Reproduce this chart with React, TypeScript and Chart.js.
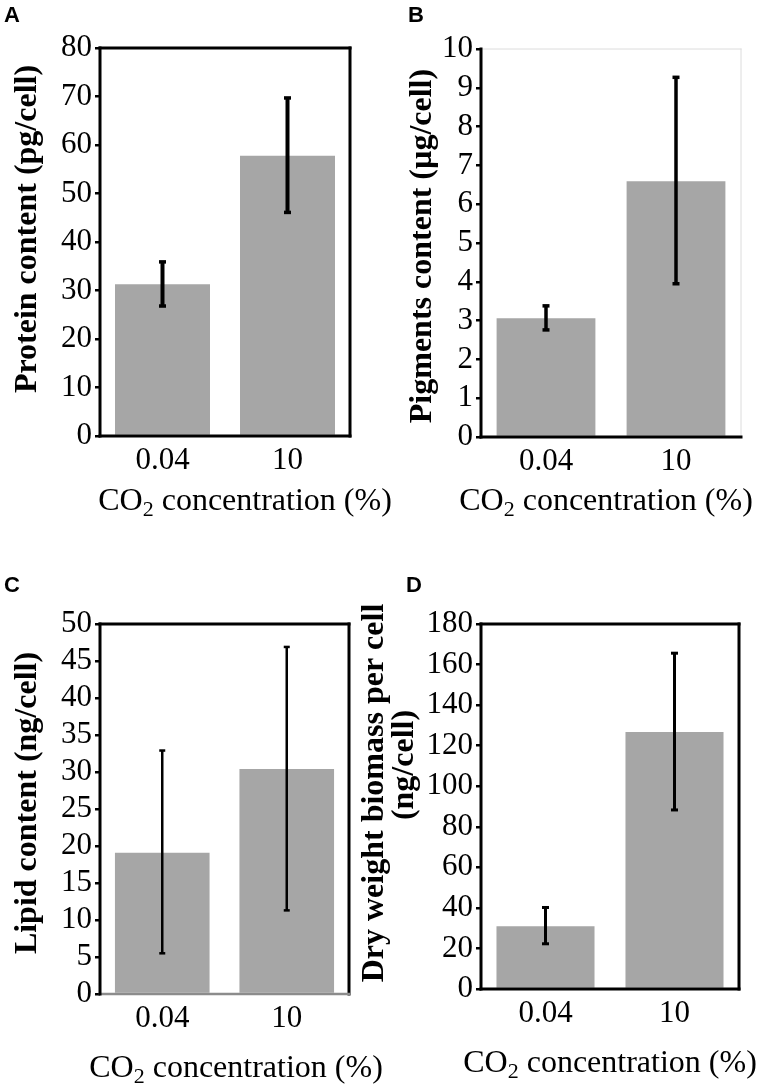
import React, { useEffect, useRef } from 'react';
import { Chart, registerables } from 'chart.js';

Chart.register(...registerables);

// ---------- data ----------
const categories = ['0.04', '10'];

const proteinMeans = [31.3, 57.8];
const proteinLow = [26.8, 46.1];
const proteinHigh = [35.9, 69.7];
const proteinTicks = [0, 10, 20, 30, 40, 50, 60, 70, 80];

const pigmentMeans = [3.06, 6.59];
const pigmentLow = [2.76, 3.95];
const pigmentHigh = [3.38, 9.27];
const pigmentTicks = [0, 1, 2, 3, 4, 5, 6, 7, 8, 9, 10];

const lipidMeans = [19.1, 30.4];
const lipidLow = [5.5, 11.3];
const lipidHigh = [32.9, 46.9];
const lipidTicks = [0, 5, 10, 15, 20, 25, 30, 35, 40, 45, 50];

const dryMeans = [31.0, 126.8];
const dryLow = [22.3, 88.3];
const dryHigh = [40.2, 165.6];
const dryTicks = [0, 20, 40, 60, 80, 100, 120, 140, 160, 180];

const xTitleMain = 'CO';
const xTitleSub = '2';
const xTitleRest = ' concentration (%)';

// ---------- panel layout / style ----------
type Line = { color: string; width: number };
type Panel = {
  key: string;
  letter: string;
  rect: { x: number; y: number; w: number; h: number };
  area: { l: number; t: number; r: number; b: number };
  means: number[];
  low: number[];
  high: number[];
  ticks: number[];
  yTitle: string[];
  yTitleX: number[];
  yTitleY: number[];
  xTitleX: number;
  xTitleY: number;
  letterX: number;
  letterY: number;
  top: Line;
  right: Line;
  bottom: Line;
  left: Line;
  err: { w: number; capW: number; capH: number };
};

const BLACK: Line = { color: '#000000', width: 3 };

const panels: Panel[] = [
  {
    key: 'A',
    letter: 'A',
    rect: { x: 0, y: 0, w: 400, h: 542 },
    area: { l: 100, t: 48, r: 350, b: 436 },
    means: proteinMeans,
    low: proteinLow,
    high: proteinHigh,
    ticks: proteinTicks,
    yTitle: ['Protein content (pg/cell)'],
    yTitleX: [36],
    yTitleY: [229],
    xTitleX: 245,
    xTitleY: 510,
    letterX: 4,
    letterY: 22,
    top: BLACK,
    right: BLACK,
    bottom: BLACK,
    left: BLACK,
    err: { w: 4, capW: 7, capH: 3.5 },
  },
  {
    key: 'B',
    letter: 'B',
    rect: { x: 381, y: 0, w: 381, h: 542 },
    area: { l: 481, t: 49, r: 741, b: 437 },
    means: pigmentMeans,
    low: pigmentLow,
    high: pigmentHigh,
    ticks: pigmentTicks,
    yTitle: ['Pigments content (\u00b5g/cell)'],
    yTitleX: [431],
    yTitleY: [246],
    xTitleX: 606,
    xTitleY: 510,
    letterX: 408,
    letterY: 22,
    top: { color: '#dcdcdc', width: 1 },
    right: { color: '#dcdcdc', width: 1 },
    bottom: BLACK,
    left: BLACK,
    err: { w: 3.5, capW: 7, capH: 3.5 },
  },
  {
    key: 'C',
    letter: 'C',
    rect: { x: 0, y: 542, w: 395, h: 543 },
    area: { l: 100, t: 624, r: 349, b: 994 },
    means: lipidMeans,
    low: lipidLow,
    high: lipidHigh,
    ticks: lipidTicks,
    yTitle: ['Lipid content (ng/cell)'],
    yTitleX: [36],
    yTitleY: [803],
    xTitleX: 236,
    xTitleY: 1077,
    letterX: 4,
    letterY: 592,
    top: BLACK,
    right: BLACK,
    bottom: { color: '#8c8c8c', width: 2.5 },
    left: BLACK,
    err: { w: 2.5, capW: 6, capH: 2.5 },
  },
  {
    key: 'D',
    letter: 'D',
    rect: { x: 340, y: 542, w: 422, h: 543 },
    area: { l: 481, t: 624, r: 739, b: 989 },
    means: dryMeans,
    low: dryLow,
    high: dryHigh,
    ticks: dryTicks,
    yTitle: ['Dry weight biomass per cell', '(ng/cell)'],
    yTitleX: [383, 413],
    yTitleY: [793, 765],
    xTitleX: 610,
    xTitleY: 1072,
    letterX: 406,
    letterY: 592,
    top: BLACK,
    right: BLACK,
    bottom: BLACK,
    left: BLACK,
    err: { w: 3, capW: 7, capH: 3 },
  },
];

const SERIF = '"Liberation Serif", "Times New Roman", Times, serif';
const SANS = '"Liberation Sans", Arial, sans-serif';

const decorPlugin = {
  id: 'panelDecor',
  afterDatasetsDraw(chart: any, _args: any, opts: any) {
    const p: Panel = opts.panel;
    if (!p) return;
    const ctx: CanvasRenderingContext2D = chart.ctx;
    const meta = chart.getDatasetMeta(0);
    const ys = chart.scales.y;
    ctx.save();
    ctx.strokeStyle = '#000';
    ctx.fillStyle = '#000';
    ctx.lineWidth = p.err.w;
    meta.data.forEach((bar: any, i: number) => {
      const x = bar.x;
      const yl = ys.getPixelForValue(p.low[i]);
      const yh = ys.getPixelForValue(p.high[i]);
      ctx.beginPath();
      ctx.moveTo(x, yl);
      ctx.lineTo(x, yh);
      ctx.stroke();
      ctx.fillRect(x - p.err.capW / 2, yh - p.err.capH / 2, p.err.capW, p.err.capH);
      ctx.fillRect(x - p.err.capW / 2, yl - p.err.capH / 2, p.err.capW, p.err.capH);
    });
    ctx.restore();
  },
  afterDraw(chart: any, _args: any, opts: any) {
    const p: Panel = opts.panel;
    if (!p) return;
    const ctx: CanvasRenderingContext2D = chart.ctx;
    const ox = p.rect.x;
    const oy = p.rect.y;
    const { left, top, right, bottom } = chart.chartArea;
    const line = (x1: number, y1: number, x2: number, y2: number, s: Line) => {
      ctx.save();
      ctx.strokeStyle = s.color;
      ctx.lineWidth = s.width;
      ctx.lineCap = 'square';
      ctx.beginPath();
      ctx.moveTo(x1, y1);
      ctx.lineTo(x2, y2);
      ctx.stroke();
      ctx.restore();
    };
    line(left, top, right, top, p.top);
    line(right, top, right, bottom, p.right);
    line(left, bottom, right, bottom, p.bottom);
    line(left, top, left, bottom, p.left);

    // panel letter
    ctx.save();
    ctx.fillStyle = '#000';
    ctx.font = `bold 22px ${SANS}`;
    ctx.textAlign = 'left';
    ctx.textBaseline = 'alphabetic';
    ctx.fillText(p.letter, p.letterX - ox, p.letterY - oy);
    ctx.restore();

    // y title (rotated)
    p.yTitle.forEach((t, i) => {
      ctx.save();
      ctx.fillStyle = '#000';
      ctx.font = `bold 32px ${SERIF}`;
      ctx.translate(p.yTitleX[i] - ox, p.yTitleY[i] - oy);
      ctx.rotate(-Math.PI / 2);
      ctx.textAlign = 'center';
      ctx.textBaseline = 'alphabetic';
      ctx.fillText(t, 0, 0);
      ctx.restore();
    });

    // x title with subscript
    ctx.save();
    ctx.fillStyle = '#000';
    ctx.textBaseline = 'alphabetic';
    ctx.textAlign = 'left';
    const mainFont = `32px ${SERIF}`;
    const subFont = `22px ${SERIF}`;
    ctx.font = mainFont;
    const w1 = ctx.measureText(xTitleMain).width;
    const w3 = ctx.measureText(xTitleRest).width;
    ctx.font = subFont;
    const w2 = ctx.measureText(xTitleSub).width;
    const total = w1 + w2 + w3;
    let x = p.xTitleX - ox - total / 2;
    const by = p.xTitleY - oy;
    ctx.font = mainFont;
    ctx.fillText(xTitleMain, x, by);
    x += w1;
    ctx.font = subFont;
    ctx.fillText(xTitleSub, x, by + 6);
    x += w2;
    ctx.font = mainFont;
    ctx.fillText(xTitleRest, x, by);
    ctx.restore();
  },
};

function PanelChart({ panel }: { panel: Panel }) {
  const ref = useRef<HTMLCanvasElement>(null);
  useEffect(() => {
    const canvas = ref.current;
    if (!canvas) return;
    const p = panel;
    const yWidth = p.area.l - p.rect.x;
    const xHeight = p.rect.y + p.rect.h - p.area.b;
    const chart = new Chart(canvas, {
      type: 'bar',
      data: {
        labels: categories,
        datasets: [
          {
            data: p.means,
            backgroundColor: '#a6a6a6',
            borderWidth: 0,
            barPercentage: 0.76,
            categoryPercentage: 1.0,
          },
        ],
      },
      options: {
        animation: false,
        responsive: false,
        devicePixelRatio: 1,
        layout: {
          padding: {
            left: 0,
            top: p.area.t - p.rect.y,
            right: p.rect.x + p.rect.w - p.area.r,
            bottom: 0,
          },
        },
        plugins: {
          legend: { display: false },
          tooltip: { enabled: false },
          panelDecor: { panel: p },
        } as any,
        scales: {
          x: {
            grid: { display: false, drawTicks: false },
            border: { display: false },
            ticks: {
              color: '#000',
              font: { family: SERIF, size: 31 },
              padding: 6,
              maxRotation: 0,
              autoSkip: false,
            },
            afterFit: (s: any) => {
              s.height = xHeight;
            },
          },
          y: {
            min: p.ticks[0],
            max: p.ticks[p.ticks.length - 1],
            afterBuildTicks: (s: any) => {
              s.ticks = p.ticks.map((v) => ({ value: v }));
            },
            grid: {
              display: true,
              drawOnChartArea: false,
              drawTicks: true,
              tickLength: 5,
              color: '#000',
              lineWidth: 2.5,
            },
            border: { display: false },
            ticks: {
              color: '#000',
              font: { family: SERIF, size: 31 },
              padding: 3,
              autoSkip: false,
            },
            afterFit: (s: any) => {
              s.width = yWidth;
            },
          },
        },
      } as any,
      plugins: [decorPlugin as any],
    });
    return () => chart.destroy();
  }, [panel]);
  return (
    <canvas
      ref={ref}
      width={panel.rect.w}
      height={panel.rect.h}
      style={{
        position: 'absolute',
        left: panel.rect.x,
        top: panel.rect.y,
        width: panel.rect.w,
        height: panel.rect.h,
        display: 'block',
      }}
    />
  );
}

export default function App() {
  return (
    <div
      style={{
        position: 'absolute',
        left: 0,
        top: 0,
        width: 762,
        height: 1085,
        background: '#ffffff',
        overflow: 'hidden',
      }}
    >
      {panels.map((p) => (
        <PanelChart key={p.key} panel={p} />
      ))}
    </div>
  );
}
